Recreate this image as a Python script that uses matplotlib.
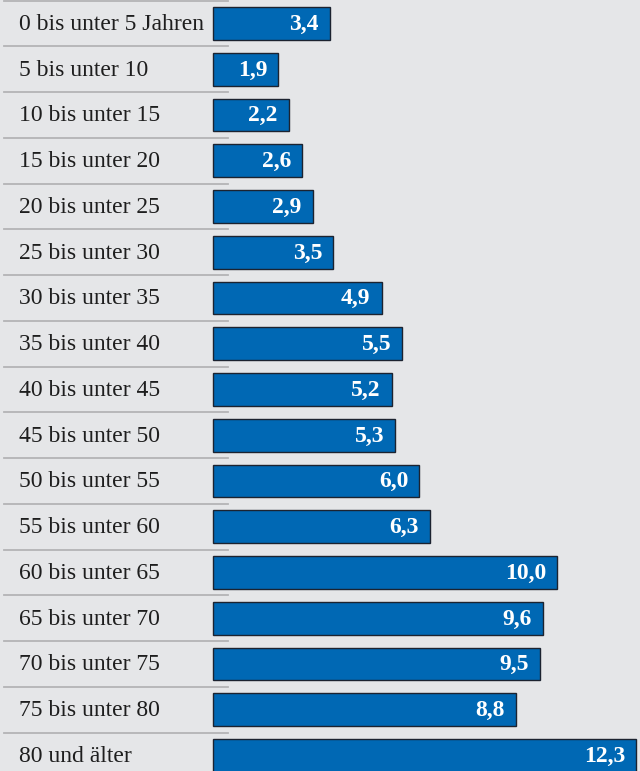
import matplotlib
matplotlib.use("Agg")
import matplotlib.pyplot as plt

categories = ["0 bis unter 5 Jahren", "5 bis unter 10", "10 bis unter 15", "15 bis unter 20",
              "20 bis unter 25", "25 bis unter 30", "30 bis unter 35", "35 bis unter 40",
              "40 bis unter 45", "45 bis unter 50", "50 bis unter 55", "55 bis unter 60",
              "60 bis unter 65", "65 bis unter 70", "70 bis unter 75", "75 bis unter 80",
              "80 und älter"]
values = [3.4, 1.9, 2.2, 2.6, 2.9, 3.5, 4.9, 5.5, 5.2, 5.3, 6.0, 6.3, 10.0, 9.6, 9.5, 8.8, 12.3]

W, H = 640, 771
fig = plt.figure(figsize=(W/100, H/100), dpi=100)
bg = "#e5e6e8"
fig.patch.set_facecolor(bg)
ax = fig.add_axes([0, 0, 1, 1])
ax.set_facecolor(bg)

ppu = (636 - 213) / 12.3
x0 = -213 / ppu
x1 = (W - 213) / ppu
row = 45.75
top = -23.5 / row
bot = (H - 23.5) / row
ax.set_xlim(x0, x1)
ax.set_ylim(bot, top)
ax.axis("off")

ys = list(range(len(categories)))
ax.barh(ys, values, height=0.72, left=0, color="#0068b4", edgecolor="#1c2330", linewidth=1.0, zorder=3)

for i in range(-1, len(categories) - 1):
    ax.axhline(i + 0.5, xmin=4/W, xmax=228/W, color="#b4b4b6", linewidth=1.3, zorder=2)

serif = ["Liberation Serif", "DejaVu Serif"]
for y, c, v in zip(ys, categories, values):
    ax.text(-194 / ppu, y + 0.02, c, ha="left", va="center", fontsize=17, family=serif, color="#1e1e1e")
    ax.text(v - 11 / ppu, y + 0.02, f"{v:.1f}".replace(".", ","), ha="right", va="center",
            fontsize=17, family=serif, fontweight="bold", color="white", zorder=4)

fig.savefig("out.png", dpi=100, facecolor=bg)
